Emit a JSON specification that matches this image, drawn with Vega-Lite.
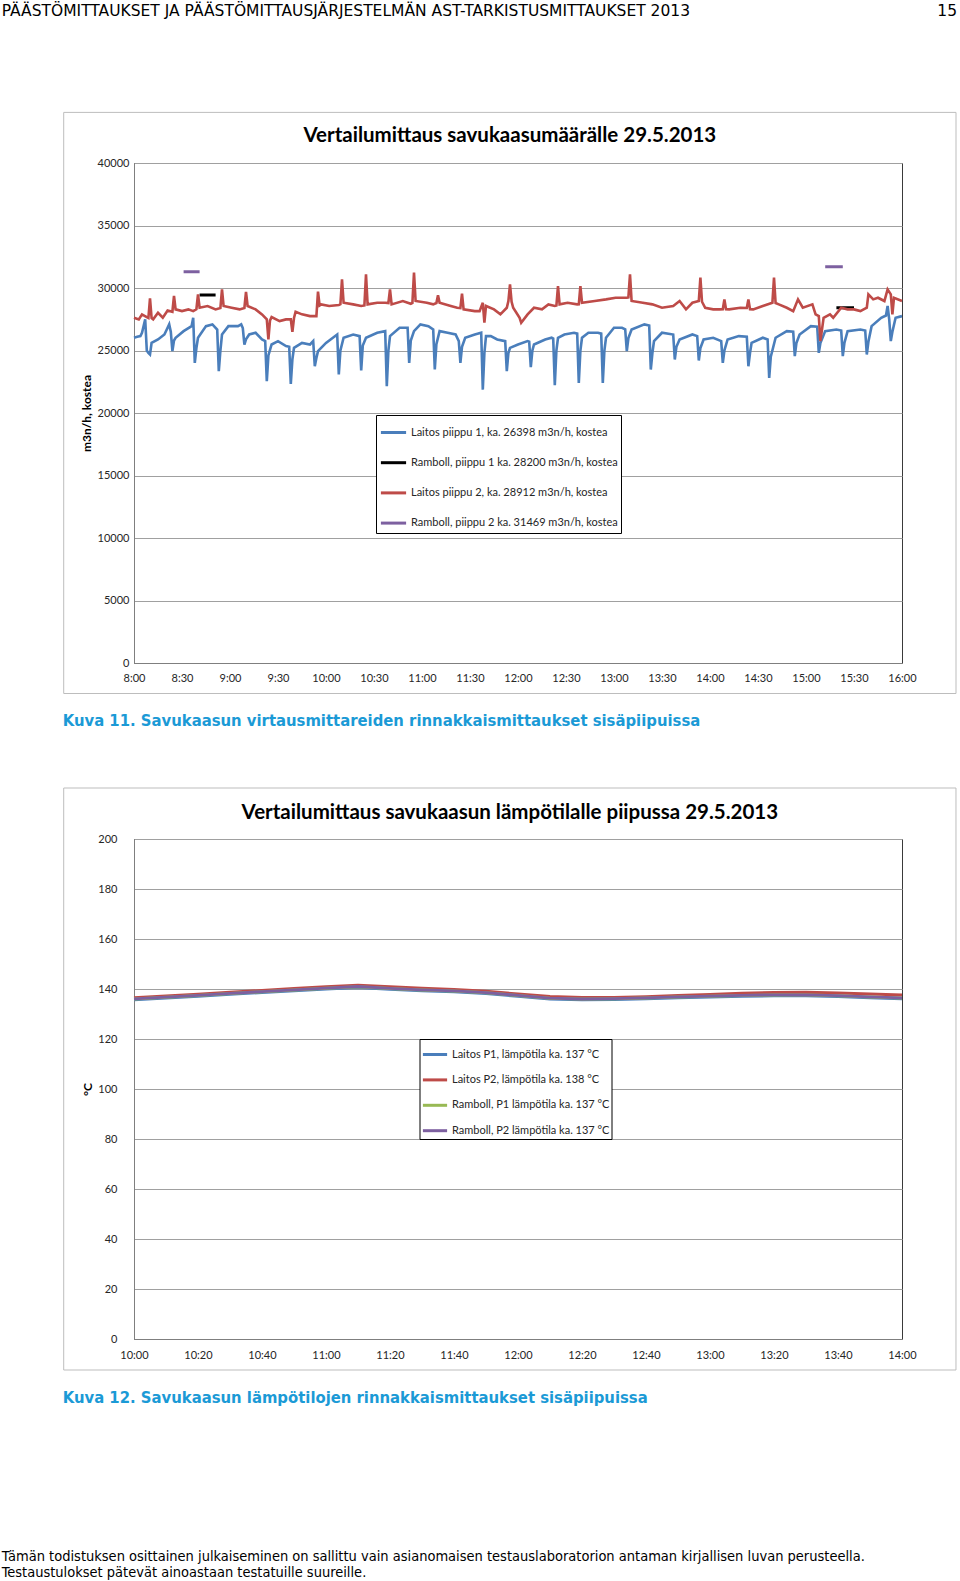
{
  "$schema": "https://vega.github.io/schema/vega-lite/v6.json",
  "background": "white",
  "padding": {"left": 1, "top": 3, "right": 0, "bottom": 0},
  "config": {"view": {"stroke": "#3a3a3a", "strokeWidth": 1}},
  "title": {"text": ["Tämän todistuksen osittainen julkaiseminen on sallittu vain asianomaisen testauslaboratorion antaman kirjallisen luvan perusteella.", "Testaustulokset pätevät ainoastaan testatuille suureille."], "orient": "bottom", "anchor": "start", "frame": "bounds", "offset": 155, "baseline": "alphabetic", "font": "DejaVu Sans Condensed", "fontSize": 14.5, "fontWeight": "normal", "color": "#000000", "lineHeight": 16},
  "resolve": {"scale": {"color": "independent", "x": "independent", "y": "independent"}, "legend": {"color": "independent"}},
  "datasets": {
    "flowL1": [
      {"t":"2013-05-29T08:00","v":26020},{"t":"2013-05-29T08:02","v":26100},{"t":"2013-05-29T08:04","v":26150},{"t":"2013-05-29T08:05","v":26420},{"t":"2013-05-29T08:07","v":27490},{"t":"2013-05-29T08:08","v":25000},{"t":"2013-05-29T08:09","v":24810},{"t":"2013-05-29T08:10","v":24680},{"t":"2013-05-29T08:11","v":25610},{"t":"2013-05-29T08:15","v":25880},{"t":"2013-05-29T08:19","v":26280},{"t":"2013-05-29T08:22","v":27090},{"t":"2013-05-29T08:23","v":26500},{"t":"2013-05-29T08:24","v":24950},{"t":"2013-05-29T08:25","v":25800},{"t":"2013-05-29T08:26","v":26020},{"t":"2013-05-29T08:31","v":26550},{"t":"2013-05-29T08:36","v":26950},{"t":"2013-05-29T08:37","v":27620},{"t":"2013-05-29T08:38","v":24010},{"t":"2013-05-29T08:39","v":25200},{"t":"2013-05-29T08:40","v":26020},{"t":"2013-05-29T08:45","v":26950},{"t":"2013-05-29T08:49","v":27090},{"t":"2013-05-29T08:52","v":26680},{"t":"2013-05-29T08:53","v":23340},{"t":"2013-05-29T08:54","v":25000},{"t":"2013-05-29T08:55","v":26280},{"t":"2013-05-29T08:59","v":26950},
      {"t":"2013-05-29T09:05","v":26950},{"t":"2013-05-29T09:07","v":27090},{"t":"2013-05-29T09:08","v":26800},{"t":"2013-05-29T09:09","v":25480},{"t":"2013-05-29T09:10","v":25900},{"t":"2013-05-29T09:12","v":26280},{"t":"2013-05-29T09:16","v":26420},{"t":"2013-05-29T09:20","v":25880},{"t":"2013-05-29T09:22","v":25750},{"t":"2013-05-29T09:23","v":22540},{"t":"2013-05-29T09:24","v":24600},{"t":"2013-05-29T09:26","v":25480},{"t":"2013-05-29T09:30","v":25750},{"t":"2013-05-29T09:35","v":25350},{"t":"2013-05-29T09:37","v":25300},{"t":"2013-05-29T09:38","v":22330},{"t":"2013-05-29T09:39","v":24300},{"t":"2013-05-29T09:40","v":25210},{"t":"2013-05-29T09:45","v":25610},{"t":"2013-05-29T09:50","v":25480},{"t":"2013-05-29T09:52","v":25750},{"t":"2013-05-29T09:53","v":23740},{"t":"2013-05-29T09:54","v":24400},{"t":"2013-05-29T09:55","v":24950},
      {"t":"2013-05-29T10:00","v":25610},{"t":"2013-05-29T10:07","v":26280},{"t":"2013-05-29T10:08","v":23080},{"t":"2013-05-29T10:09","v":25000},{"t":"2013-05-29T10:11","v":26020},{"t":"2013-05-29T10:17","v":26280},{"t":"2013-05-29T10:21","v":26150},{"t":"2013-05-29T10:22","v":23400},{"t":"2013-05-29T10:23","v":25400},{"t":"2013-05-29T10:25","v":26020},{"t":"2013-05-29T10:32","v":26420},{"t":"2013-05-29T10:37","v":26550},{"t":"2013-05-29T10:38","v":22140},{"t":"2013-05-29T10:39","v":25000},{"t":"2013-05-29T10:40","v":26150},{"t":"2013-05-29T10:46","v":26820},{"t":"2013-05-29T10:51","v":26820},{"t":"2013-05-29T10:52","v":24010},{"t":"2013-05-29T10:53","v":25800},{"t":"2013-05-29T10:55","v":26550},{"t":"2013-05-29T10:59","v":27090},
      {"t":"2013-05-29T11:04","v":26950},{"t":"2013-05-29T11:07","v":26680},{"t":"2013-05-29T11:08","v":23480},{"t":"2013-05-29T11:09","v":25500},{"t":"2013-05-29T11:11","v":26550},{"t":"2013-05-29T11:16","v":26420},{"t":"2013-05-29T11:21","v":26280},{"t":"2013-05-29T11:23","v":25750},{"t":"2013-05-29T11:24","v":24010},{"t":"2013-05-29T11:25","v":25300},{"t":"2013-05-29T11:27","v":26020},{"t":"2013-05-29T11:33","v":26280},{"t":"2013-05-29T11:37","v":26420},{"t":"2013-05-29T11:38","v":21870},{"t":"2013-05-29T11:39","v":24800},{"t":"2013-05-29T11:40","v":26150},{"t":"2013-05-29T11:43","v":26150},{"t":"2013-05-29T11:47","v":25880},{"t":"2013-05-29T11:52","v":25750},{"t":"2013-05-29T11:53","v":23340},{"t":"2013-05-29T11:54","v":24800},{"t":"2013-05-29T11:55","v":25210},
      {"t":"2013-05-29T12:00","v":25480},{"t":"2013-05-29T12:06","v":25750},{"t":"2013-05-29T12:07","v":25700},{"t":"2013-05-29T12:08","v":23660},{"t":"2013-05-29T12:09","v":25000},{"t":"2013-05-29T12:10","v":25480},{"t":"2013-05-29T12:17","v":25880},{"t":"2013-05-29T12:21","v":26020},{"t":"2013-05-29T12:22","v":25950},{"t":"2013-05-29T12:23","v":22220},{"t":"2013-05-29T12:24","v":25000},{"t":"2013-05-29T12:25","v":26020},{"t":"2013-05-29T12:29","v":26280},{"t":"2013-05-29T12:35","v":26420},{"t":"2013-05-29T12:37","v":26350},{"t":"2013-05-29T12:38","v":22410},{"t":"2013-05-29T12:39","v":25000},{"t":"2013-05-29T12:40","v":26020},{"t":"2013-05-29T12:44","v":26420},{"t":"2013-05-29T12:50","v":26420},{"t":"2013-05-29T12:52","v":26350},{"t":"2013-05-29T12:53","v":22410},{"t":"2013-05-29T12:54","v":25000},{"t":"2013-05-29T12:55","v":26020},
      {"t":"2013-05-29T13:00","v":26820},{"t":"2013-05-29T13:05","v":26820},{"t":"2013-05-29T13:07","v":26700},{"t":"2013-05-29T13:08","v":24950},{"t":"2013-05-29T13:09","v":26000},{"t":"2013-05-29T13:11","v":26680},{"t":"2013-05-29T13:19","v":27090},{"t":"2013-05-29T13:22","v":27000},{"t":"2013-05-29T13:23","v":23480},{"t":"2013-05-29T13:24","v":24800},{"t":"2013-05-29T13:25","v":25750},{"t":"2013-05-29T13:30","v":26420},{"t":"2013-05-29T13:37","v":26280},{"t":"2013-05-29T13:38","v":24280},{"t":"2013-05-29T13:39","v":25300},{"t":"2013-05-29T13:41","v":25880},{"t":"2013-05-29T13:49","v":26280},{"t":"2013-05-29T13:52","v":26150},{"t":"2013-05-29T13:53","v":24200},{"t":"2013-05-29T13:54","v":25200},{"t":"2013-05-29T13:56","v":25880},
      {"t":"2013-05-29T14:02","v":26020},{"t":"2013-05-29T14:07","v":25750},{"t":"2013-05-29T14:08","v":24010},{"t":"2013-05-29T14:09","v":25000},{"t":"2013-05-29T14:11","v":25880},{"t":"2013-05-29T14:18","v":26150},{"t":"2013-05-29T14:23","v":26100},{"t":"2013-05-29T14:24","v":23740},{"t":"2013-05-29T14:25","v":24800},{"t":"2013-05-29T14:26","v":25610},{"t":"2013-05-29T14:33","v":26020},{"t":"2013-05-29T14:36","v":25880},{"t":"2013-05-29T14:37","v":22810},{"t":"2013-05-29T14:38","v":24500},{"t":"2013-05-29T14:41","v":26020},{"t":"2013-05-29T14:48","v":26550},{"t":"2013-05-29T14:52","v":26500},{"t":"2013-05-29T14:53","v":24550},{"t":"2013-05-29T14:54","v":25600},{"t":"2013-05-29T14:56","v":26280},
      {"t":"2013-05-29T15:03","v":26950},{"t":"2013-05-29T15:07","v":26900},{"t":"2013-05-29T15:08","v":24810},{"t":"2013-05-29T15:09","v":25600},{"t":"2013-05-29T15:12","v":26550},{"t":"2013-05-29T15:19","v":26680},{"t":"2013-05-29T15:22","v":26600},{"t":"2013-05-29T15:23","v":24550},{"t":"2013-05-29T15:24","v":25600},{"t":"2013-05-29T15:26","v":26550},{"t":"2013-05-29T15:34","v":26680},{"t":"2013-05-29T15:37","v":26600},{"t":"2013-05-29T15:38","v":24680},{"t":"2013-05-29T15:39","v":25700},{"t":"2013-05-29T15:41","v":26950},{"t":"2013-05-29T15:47","v":27620},{"t":"2013-05-29T15:50","v":27800},{"t":"2013-05-29T15:51","v":28560},{"t":"2013-05-29T15:52","v":27500},{"t":"2013-05-29T15:53","v":25750},{"t":"2013-05-29T15:54","v":26500},{"t":"2013-05-29T15:56","v":27620},{"t":"2013-05-29T16:00","v":27750}
    ],
    "flowL2": [
      {"t":"2013-05-29T08:00","v":27620},{"t":"2013-05-29T08:03","v":27490},{"t":"2013-05-29T08:05","v":27890},{"t":"2013-05-29T08:08","v":27670},{"t":"2013-05-29T08:09","v":27600},{"t":"2013-05-29T08:10","v":29170},{"t":"2013-05-29T08:11","v":27600},{"t":"2013-05-29T08:12","v":27490},{"t":"2013-05-29T08:15","v":28020},{"t":"2013-05-29T08:18","v":27620},{"t":"2013-05-29T08:21","v":28200},{"t":"2013-05-29T08:24","v":28100},{"t":"2013-05-29T08:25","v":29360},{"t":"2013-05-29T08:26","v":28290},{"t":"2013-05-29T08:30","v":28150},{"t":"2013-05-29T08:34","v":28290},{"t":"2013-05-29T08:37","v":28150},{"t":"2013-05-29T08:39","v":28300},{"t":"2013-05-29T08:40","v":29490},{"t":"2013-05-29T08:41","v":28420},{"t":"2013-05-29T08:46","v":28560},{"t":"2013-05-29T08:51","v":28290},{"t":"2013-05-29T08:54","v":28400},{"t":"2013-05-29T08:55","v":29890},{"t":"2013-05-29T08:56","v":28560},
      {"t":"2013-05-29T09:01","v":28420},{"t":"2013-05-29T09:06","v":28290},{"t":"2013-05-29T09:09","v":28400},{"t":"2013-05-29T09:10","v":29680},{"t":"2013-05-29T09:11","v":28560},{"t":"2013-05-29T09:16","v":28290},{"t":"2013-05-29T09:20","v":27890},{"t":"2013-05-29T09:23","v":27490},{"t":"2013-05-29T09:24","v":25880},{"t":"2013-05-29T09:25","v":27400},{"t":"2013-05-29T09:26","v":27670},{"t":"2013-05-29T09:31","v":27350},{"t":"2013-05-29T09:35","v":27490},{"t":"2013-05-29T09:38","v":27490},{"t":"2013-05-29T09:39","v":26500},{"t":"2013-05-29T09:40","v":27600},{"t":"2013-05-29T09:41","v":28100},{"t":"2013-05-29T09:45","v":27890},{"t":"2013-05-29T09:50","v":27750},{"t":"2013-05-29T09:54","v":27750},{"t":"2013-05-29T09:55","v":29710},{"t":"2013-05-29T09:56","v":28600},{"t":"2013-05-29T09:57","v":28690},
      {"t":"2013-05-29T10:02","v":28560},{"t":"2013-05-29T10:08","v":28640},{"t":"2013-05-29T10:09","v":28700},{"t":"2013-05-29T10:10","v":30700},{"t":"2013-05-29T10:11","v":28820},{"t":"2013-05-29T10:17","v":28690},{"t":"2013-05-29T10:22","v":28560},{"t":"2013-05-29T10:24","v":28600},{"t":"2013-05-29T10:25","v":31100},{"t":"2013-05-29T10:26","v":28690},{"t":"2013-05-29T10:32","v":28820},{"t":"2013-05-29T10:37","v":28820},{"t":"2013-05-29T10:39","v":28800},{"t":"2013-05-29T10:40","v":29890},{"t":"2013-05-29T10:41","v":28690},{"t":"2013-05-29T10:48","v":28960},{"t":"2013-05-29T10:53","v":28740},{"t":"2013-05-29T10:54","v":28800},{"t":"2013-05-29T10:55","v":31230},{"t":"2013-05-29T10:56","v":28960},
      {"t":"2013-05-29T11:03","v":28820},{"t":"2013-05-29T11:07","v":28690},{"t":"2013-05-29T11:09","v":28800},{"t":"2013-05-29T11:10","v":29410},{"t":"2013-05-29T11:11","v":28820},{"t":"2013-05-29T11:18","v":28560},{"t":"2013-05-29T11:22","v":28420},{"t":"2013-05-29T11:24","v":28400},{"t":"2013-05-29T11:25","v":29550},{"t":"2013-05-29T11:26","v":28290},{"t":"2013-05-29T11:33","v":28150},{"t":"2013-05-29T11:36","v":28150},{"t":"2013-05-29T11:38","v":28820},{"t":"2013-05-29T11:39","v":27220},{"t":"2013-05-29T11:40","v":28560},{"t":"2013-05-29T11:45","v":28290},{"t":"2013-05-29T11:49","v":27890},{"t":"2013-05-29T11:53","v":28420},{"t":"2013-05-29T11:54","v":28960},{"t":"2013-05-29T11:55","v":30290},{"t":"2013-05-29T11:56","v":28900},{"t":"2013-05-29T11:57","v":28420},
      {"t":"2013-05-29T12:01","v":27620},{"t":"2013-05-29T12:02","v":27220},{"t":"2013-05-29T12:06","v":27890},{"t":"2013-05-29T12:10","v":28420},{"t":"2013-05-29T12:15","v":28290},{"t":"2013-05-29T12:19","v":28690},{"t":"2013-05-29T12:23","v":28560},{"t":"2013-05-29T12:24","v":28600},{"t":"2013-05-29T12:25","v":30160},{"t":"2013-05-29T12:26","v":28690},{"t":"2013-05-29T12:31","v":28820},{"t":"2013-05-29T12:37","v":28690},{"t":"2013-05-29T12:38","v":28700},{"t":"2013-05-29T12:39","v":30160},{"t":"2013-05-29T12:40","v":28820},{"t":"2013-05-29T12:48","v":28960},{"t":"2013-05-29T12:55","v":29090},
      {"t":"2013-05-29T13:01","v":29220},{"t":"2013-05-29T13:08","v":29220},{"t":"2013-05-29T13:09","v":29250},{"t":"2013-05-29T13:10","v":31100},{"t":"2013-05-29T13:11","v":28960},{"t":"2013-05-29T13:18","v":28820},{"t":"2013-05-29T13:24","v":28690},{"t":"2013-05-29T13:30","v":28420},{"t":"2013-05-29T13:37","v":28560},{"t":"2013-05-29T13:41","v":28960},{"t":"2013-05-29T13:45","v":28290},{"t":"2013-05-29T13:49","v":28820},{"t":"2013-05-29T13:53","v":28960},{"t":"2013-05-29T13:54","v":30830},{"t":"2013-05-29T13:55","v":28900},{"t":"2013-05-29T13:57","v":28420},
      {"t":"2013-05-29T14:02","v":28290},{"t":"2013-05-29T14:06","v":28290},{"t":"2013-05-29T14:08","v":28300},{"t":"2013-05-29T14:09","v":29090},{"t":"2013-05-29T14:10","v":28300},{"t":"2013-05-29T14:12","v":28290},{"t":"2013-05-29T14:19","v":28420},{"t":"2013-05-29T14:23","v":28400},{"t":"2013-05-29T14:24","v":29090},{"t":"2013-05-29T14:25","v":28300},{"t":"2013-05-29T14:27","v":28290},{"t":"2013-05-29T14:33","v":28560},{"t":"2013-05-29T14:39","v":28820},{"t":"2013-05-29T14:40","v":30830},{"t":"2013-05-29T14:41","v":28800},{"t":"2013-05-29T14:43","v":28690},{"t":"2013-05-29T14:48","v":28420},{"t":"2013-05-29T14:52","v":28150},{"t":"2013-05-29T14:55","v":29090},{"t":"2013-05-29T14:58","v":28420},
      {"t":"2013-05-29T15:04","v":28690},{"t":"2013-05-29T15:06","v":27890},{"t":"2013-05-29T15:08","v":27750},{"t":"2013-05-29T15:09","v":25750},{"t":"2013-05-29T15:11","v":27620},{"t":"2013-05-29T15:15","v":27890},{"t":"2013-05-29T15:17","v":27620},{"t":"2013-05-29T15:22","v":28420},{"t":"2013-05-29T15:26","v":28290},{"t":"2013-05-29T15:30","v":28290},{"t":"2013-05-29T15:34","v":28150},{"t":"2013-05-29T15:38","v":28420},{"t":"2013-05-29T15:39","v":29490},{"t":"2013-05-29T15:42","v":29090},{"t":"2013-05-29T15:45","v":29220},{"t":"2013-05-29T15:49","v":28960},{"t":"2013-05-29T15:51","v":29890},{"t":"2013-05-29T15:53","v":29490},{"t":"2013-05-29T15:54","v":27890},{"t":"2013-05-29T15:55","v":29220},{"t":"2013-05-29T16:00","v":28960}
    ],
    "flowR1": [
      {"t":"2013-05-29T08:41","v":29440,"seg":1},{"t":"2013-05-29T08:51","v":29440,"seg":1},
      {"t":"2013-05-29T15:19","v":28420,"seg":2},{"t":"2013-05-29T15:30","v":28420,"seg":2}
    ],
    "flowR2": [
      {"t":"2013-05-29T08:31","v":31300,"seg":1},{"t":"2013-05-29T08:41","v":31300,"seg":1},
      {"t":"2013-05-29T15:12","v":31700,"seg":2},{"t":"2013-05-29T15:23","v":31700,"seg":2}
    ],
    "temp": [
      {"t":"2013-05-29T10:00","p1":135.7,"p2":136.5,"r1":136.0,"r2":136.05},
      {"t":"2013-05-29T10:10","p1":136.4,"p2":137.2,"r1":136.7,"r2":136.75},
      {"t":"2013-05-29T10:20","p1":137.1,"p2":137.9,"r1":137.4,"r2":137.45},
      {"t":"2013-05-29T10:30","p1":137.9,"p2":138.7,"r1":138.2,"r2":138.25},
      {"t":"2013-05-29T10:40","p1":138.6,"p2":139.4,"r1":138.9,"r2":138.95},
      {"t":"2013-05-29T10:50","p1":139.3,"p2":140.2,"r1":139.6,"r2":139.65},
      {"t":"2013-05-29T11:00","p1":140.0,"p2":140.9,"r1":140.3,"r2":140.35},
      {"t":"2013-05-29T11:10","p1":140.6,"p2":141.5,"r1":140.9,"r2":140.95},
      {"t":"2013-05-29T11:20","p1":139.9,"p2":140.9,"r1":140.2,"r2":140.25},
      {"t":"2013-05-29T11:30","p1":139.3,"p2":140.3,"r1":139.6,"r2":139.65},
      {"t":"2013-05-29T11:40","p1":138.9,"p2":139.8,"r1":139.2,"r2":139.25},
      {"t":"2013-05-29T11:50","p1":138.2,"p2":139.1,"r1":138.5,"r2":138.55},
      {"t":"2013-05-29T12:00","p1":137.1,"p2":138.0,"r1":137.4,"r2":137.45},
      {"t":"2013-05-29T12:10","p1":136.0,"p2":137.0,"r1":136.3,"r2":136.35},
      {"t":"2013-05-29T12:20","p1":135.7,"p2":136.6,"r1":136.0,"r2":136.05},
      {"t":"2013-05-29T12:30","p1":135.8,"p2":136.6,"r1":136.1,"r2":136.15},
      {"t":"2013-05-29T12:40","p1":136.1,"p2":136.9,"r1":136.4,"r2":136.45},
      {"t":"2013-05-29T12:50","p1":136.5,"p2":137.4,"r1":136.8,"r2":136.85},
      {"t":"2013-05-29T13:00","p1":136.8,"p2":137.8,"r1":137.1,"r2":137.15},
      {"t":"2013-05-29T13:10","p1":137.1,"p2":138.3,"r1":137.4,"r2":137.45},
      {"t":"2013-05-29T13:20","p1":137.3,"p2":138.6,"r1":137.6,"r2":137.65},
      {"t":"2013-05-29T13:30","p1":137.3,"p2":138.7,"r1":137.6,"r2":137.65},
      {"t":"2013-05-29T13:40","p1":137.0,"p2":138.4,"r1":137.3,"r2":137.35},
      {"t":"2013-05-29T13:50","p1":136.5,"p2":138.0,"r1":136.8,"r2":136.85},
      {"t":"2013-05-29T14:00","p1":136.1,"p2":137.6,"r1":136.4,"r2":136.45}
    ]
  },
  "vconcat": [
    {
      "title": {"text": "PÄÄSTÖMITTAUKSET JA PÄÄSTÖMITTAUSJÄRJESTELMÄN AST-TARKISTUSMITTAUKSET 2013", "anchor": "start", "frame": "bounds", "dx": -61, "offset": -27.5, "baseline": "alphabetic", "font": "DejaVu Sans", "fontSize": 15.5, "fontWeight": "normal", "color": "#000000"},
      "resolve": {"scale": {"color": "independent", "x": "independent", "y": "independent"}, "legend": {"color": "independent"}},
      "vconcat": [
        {
          "title": {"text": "15", "anchor": "end", "frame": "bounds", "offset": 80.2, "baseline": "alphabetic", "font": "DejaVu Sans", "fontSize": 15.5, "fontWeight": "normal", "color": "#000000"},
          "spacing": 56,
          "resolve": {"scale": {"color": "independent", "x": "independent", "y": "independent"}, "legend": {"color": "independent"}},
          "vconcat": [
            {
              "title": {"text": "Kuva 11. Savukaasun virtausmittareiden rinnakkaismittaukset sisäpiipuissa", "orient": "bottom", "anchor": "start", "frame": "bounds", "offset": 31.4, "baseline": "alphabetic", "font": "DejaVu Sans Condensed", "fontSize": 16.5, "fontWeight": "bold", "color": "#1b9ad6"},
              "resolve": {"scale": {"color": "independent", "x": "independent", "y": "independent"}, "legend": {"color": "independent"}},
              "vconcat": [
                {
                  "width": 768,
                  "height": 500,
                  "title": {"text": "Vertailumittaus savukaasumäärälle 29.5.2013", "anchor": "middle", "frame": "bounds", "offset": -50.8, "baseline": "alphabetic", "font": "Lato", "fontSize": 20.5, "fontWeight": "bold", "color": "#000000"},
                  "resolve": {"axis": {"x": "independent", "y": "independent"}},
                  "layer": [
                    {
                      "data": {"values": [{}]},
                      "mark": {"type": "rect", "filled": false, "stroke": "#bdbdbd", "strokeWidth": 1, "clip": false},
                      "encoding": {
                        "x": {"datum": {"year": 2013, "month": 5, "date": 29, "hours": 7, "minutes": 16, "seconds": 4}, "type": "temporal", "axis": null},
                        "x2": {"datum": {"year": 2013, "month": 5, "date": 29, "hours": 16, "minutes": 33, "seconds": 45}},
                        "y": {"datum": 44048, "type": "quantitative", "axis": null},
                        "y2": {"datum": -2440}
                      }
                    },
                    {
                      "layer": [
                        {
                          "data": {"name": "flowL1"},
                          "mark": {"type": "line", "strokeWidth": 2.6},
                          "encoding": {
                            "x": {"field": "t", "type": "temporal", "title": null,
                              "scale": {"domain": [{"year": 2013, "month": 5, "date": 29, "hours": 8}, {"year": 2013, "month": 5, "date": 29, "hours": 16}], "nice": false},
                              "axis": {"format": "%-H:%M", "values": [
                                {"year": 2013, "month": 5, "date": 29, "hours": 8, "minutes": 0}, {"year": 2013, "month": 5, "date": 29, "hours": 8, "minutes": 30},
                                {"year": 2013, "month": 5, "date": 29, "hours": 9, "minutes": 0}, {"year": 2013, "month": 5, "date": 29, "hours": 9, "minutes": 30},
                                {"year": 2013, "month": 5, "date": 29, "hours": 10, "minutes": 0}, {"year": 2013, "month": 5, "date": 29, "hours": 10, "minutes": 30},
                                {"year": 2013, "month": 5, "date": 29, "hours": 11, "minutes": 0}, {"year": 2013, "month": 5, "date": 29, "hours": 11, "minutes": 30},
                                {"year": 2013, "month": 5, "date": 29, "hours": 12, "minutes": 0}, {"year": 2013, "month": 5, "date": 29, "hours": 12, "minutes": 30},
                                {"year": 2013, "month": 5, "date": 29, "hours": 13, "minutes": 0}, {"year": 2013, "month": 5, "date": 29, "hours": 13, "minutes": 30},
                                {"year": 2013, "month": 5, "date": 29, "hours": 14, "minutes": 0}, {"year": 2013, "month": 5, "date": 29, "hours": 14, "minutes": 30},
                                {"year": 2013, "month": 5, "date": 29, "hours": 15, "minutes": 0}, {"year": 2013, "month": 5, "date": 29, "hours": 15, "minutes": 30},
                                {"year": 2013, "month": 5, "date": 29, "hours": 16, "minutes": 0}],
                                "labelFlush": false, "labelOverlap": false, "labelPadding": 9, "grid": false, "ticks": false, "domainColor": "#7f7f7f", "labelFont": "Lato", "labelFontSize": 11, "labelColor": "#262626"}},
                            "y": {"field": "v", "type": "quantitative", "title": "m3n/h, kostea",
                              "scale": {"domain": [0, 40000], "nice": false, "zero": false},
                              "axis": {"format": "d", "values": [0, 5000, 10000, 15000, 20000, 25000, 30000, 35000, 40000], "grid": true, "gridColor": "#a0a0a0", "ticks": false, "domainColor": "#7f7f7f", "labelPadding": 5, "labelOverlap": false, "labelFont": "Lato", "labelFontSize": 11, "labelColor": "#262626", "titleFont": "Lato", "titleFontSize": 12, "titleFontWeight": "bold", "titleColor": "#000000", "titlePadding": 4}},
                            "color": {"datum": "Laitos piippu 1, ka. 26398 m3n/h, kostea", "type": "nominal",
                              "scale": {"domain": ["Laitos piippu 1, ka. 26398 m3n/h, kostea", "Ramboll, piippu 1 ka. 28200 m3n/h, kostea", "Laitos piippu 2, ka. 28912 m3n/h, kostea", "Ramboll, piippu 2 ka. 31469 m3n/h, kostea"], "range": ["#4a7ebb", "#000000", "#be4b48", "#7d60a0"]},
                              "legend": {"orient": "none", "legendX": 242, "legendY": 252, "title": null, "symbolType": "stroke", "symbolSize": 635, "symbolStrokeWidth": 3, "labelFont": "Lato", "labelFontSize": 11, "labelColor": "#262626", "strokeColor": "#000000", "fillColor": "#ffffff", "padding": 3, "rowPadding": 9.2, "labelOffset": 3, "labelLimit": 400}}
                          }
                        },
                        {
                          "data": {"name": "flowR1"},
                          "mark": {"type": "line", "strokeWidth": 3},
                          "encoding": {
                            "x": {"field": "t", "type": "temporal", "title": null},
                            "y": {"field": "v", "type": "quantitative", "title": "m3n/h, kostea"},
                            "detail": {"field": "seg", "type": "nominal"},
                            "color": {"datum": "Ramboll, piippu 1 ka. 28200 m3n/h, kostea", "type": "nominal"}
                          }
                        },
                        {
                          "data": {"name": "flowL2"},
                          "mark": {"type": "line", "strokeWidth": 2.6},
                          "encoding": {
                            "x": {"field": "t", "type": "temporal", "title": null},
                            "y": {"field": "v", "type": "quantitative", "title": "m3n/h, kostea"},
                            "color": {"datum": "Laitos piippu 2, ka. 28912 m3n/h, kostea", "type": "nominal"}
                          }
                        },
                        {
                          "data": {"name": "flowR2"},
                          "mark": {"type": "line", "strokeWidth": 3},
                          "encoding": {
                            "x": {"field": "t", "type": "temporal", "title": null},
                            "y": {"field": "v", "type": "quantitative", "title": "m3n/h, kostea"},
                            "detail": {"field": "seg", "type": "nominal"},
                            "color": {"datum": "Ramboll, piippu 2 ka. 31469 m3n/h, kostea", "type": "nominal"}
                          }
                        }
                      ]
                    }
                  ]
                }
              ]
            },
            {
              "title": {"text": "Kuva 12. Savukaasun lämpötilojen rinnakkaismittaukset sisäpiipuissa", "orient": "bottom", "anchor": "start", "frame": "bounds", "offset": 31.8, "baseline": "alphabetic", "font": "DejaVu Sans Condensed", "fontSize": 16.5, "fontWeight": "bold", "color": "#1b9ad6"},
              "resolve": {"scale": {"color": "independent", "x": "independent", "y": "independent"}, "legend": {"color": "independent"}},
              "vconcat": [
                {
                  "width": 768,
                  "height": 500,
                  "title": {"text": "Vertailumittaus savukaasun lämpötilalle piipussa 29.5.2013", "anchor": "middle", "frame": "bounds", "offset": -52, "baseline": "alphabetic", "font": "Lato", "fontSize": 20.5, "fontWeight": "bold", "color": "#000000"},
                  "resolve": {"axis": {"x": "independent", "y": "independent"}},
                  "layer": [
                    {
                      "data": {"values": [{}]},
                      "mark": {"type": "rect", "filled": false, "stroke": "#bdbdbd", "strokeWidth": 1, "clip": false},
                      "encoding": {
                        "x": {"datum": {"year": 2013, "month": 5, "date": 29, "hours": 9, "minutes": 38, "seconds": 2}, "type": "temporal", "axis": null},
                        "x2": {"datum": {"year": 2013, "month": 5, "date": 29, "hours": 14, "minutes": 16, "seconds": 52}},
                        "y": {"datum": 220.4, "type": "quantitative", "axis": null},
                        "y2": {"datum": -12.4}
                      }
                    },
                    {
                      "data": {"name": "temp"},
                      "layer": [
                        {
                          "mark": {"type": "line", "strokeWidth": 3},
                          "encoding": {
                            "x": {"field": "t", "type": "temporal", "title": null,
                              "scale": {"domain": [{"year": 2013, "month": 5, "date": 29, "hours": 10}, {"year": 2013, "month": 5, "date": 29, "hours": 14}], "nice": false},
                              "axis": {"format": "%-H:%M", "values": [
                                {"year": 2013, "month": 5, "date": 29, "hours": 10, "minutes": 0}, {"year": 2013, "month": 5, "date": 29, "hours": 10, "minutes": 20},
                                {"year": 2013, "month": 5, "date": 29, "hours": 10, "minutes": 40}, {"year": 2013, "month": 5, "date": 29, "hours": 11, "minutes": 0},
                                {"year": 2013, "month": 5, "date": 29, "hours": 11, "minutes": 20}, {"year": 2013, "month": 5, "date": 29, "hours": 11, "minutes": 40},
                                {"year": 2013, "month": 5, "date": 29, "hours": 12, "minutes": 0}, {"year": 2013, "month": 5, "date": 29, "hours": 12, "minutes": 20},
                                {"year": 2013, "month": 5, "date": 29, "hours": 12, "minutes": 40}, {"year": 2013, "month": 5, "date": 29, "hours": 13, "minutes": 0},
                                {"year": 2013, "month": 5, "date": 29, "hours": 13, "minutes": 20}, {"year": 2013, "month": 5, "date": 29, "hours": 13, "minutes": 40},
                                {"year": 2013, "month": 5, "date": 29, "hours": 14, "minutes": 0}],
                                "labelFlush": false, "labelOverlap": false, "labelPadding": 10, "grid": false, "ticks": false, "domainColor": "#7f7f7f", "labelFont": "Lato", "labelFontSize": 11, "labelColor": "#262626"}},
                            "y": {"field": "p1", "type": "quantitative", "title": "°C",
                              "scale": {"domain": [0, 200], "nice": false, "zero": false},
                              "axis": {"format": "d", "values": [0, 20, 40, 60, 80, 100, 120, 140, 160, 180, 200], "grid": true, "gridColor": "#a0a0a0", "ticks": false, "domainColor": "#7f7f7f", "labelPadding": 17, "labelOverlap": false, "labelFont": "Lato", "labelFontSize": 11, "labelColor": "#262626", "titleFont": "Lato", "titleFontSize": 12, "titleFontWeight": "bold", "titleColor": "#000000", "titlePadding": 3}},
                            "color": {"datum": "Laitos P1, lämpötila ka. 137 °C", "type": "nominal",
                              "scale": {"domain": ["Laitos P1, lämpötila ka. 137 °C", "Laitos P2, lämpötila ka. 138 °C", "Ramboll, P1 lämpötila ka. 137 °C", "Ramboll, P2 lämpötila ka. 137 °C"], "range": ["#4a7ebb", "#be4b48", "#98b954", "#7d60a0"]},
                              "legend": {"orient": "none", "legendX": 285.5, "legendY": 200, "title": null, "symbolType": "stroke", "symbolSize": 586, "symbolStrokeWidth": 3, "labelFont": "Lato", "labelFontSize": 11, "labelColor": "#262626", "strokeColor": "#000000", "fillColor": "#ffffff", "padding": 1.5, "rowPadding": 5.4, "labelOffset": 3, "labelLimit": 400}}
                          }
                        },
                        {
                          "mark": {"type": "line", "strokeWidth": 3},
                          "encoding": {
                            "x": {"field": "t", "type": "temporal", "title": null},
                            "y": {"field": "p2", "type": "quantitative", "title": "°C"},
                            "color": {"datum": "Laitos P2, lämpötila ka. 138 °C", "type": "nominal"}
                          }
                        },
                        {
                          "mark": {"type": "line", "strokeWidth": 3},
                          "encoding": {
                            "x": {"field": "t", "type": "temporal", "title": null},
                            "y": {"field": "r1", "type": "quantitative", "title": "°C"},
                            "color": {"datum": "Ramboll, P1 lämpötila ka. 137 °C", "type": "nominal"}
                          }
                        },
                        {
                          "mark": {"type": "line", "strokeWidth": 3},
                          "encoding": {
                            "x": {"field": "t", "type": "temporal", "title": null},
                            "y": {"field": "r2", "type": "quantitative", "title": "°C"},
                            "color": {"datum": "Ramboll, P2 lämpötila ka. 137 °C", "type": "nominal"}
                          }
                        }
                      ]
                    }
                  ]
                }
              ]
            }
          ]
        }
      ]
    }
  ]
}
